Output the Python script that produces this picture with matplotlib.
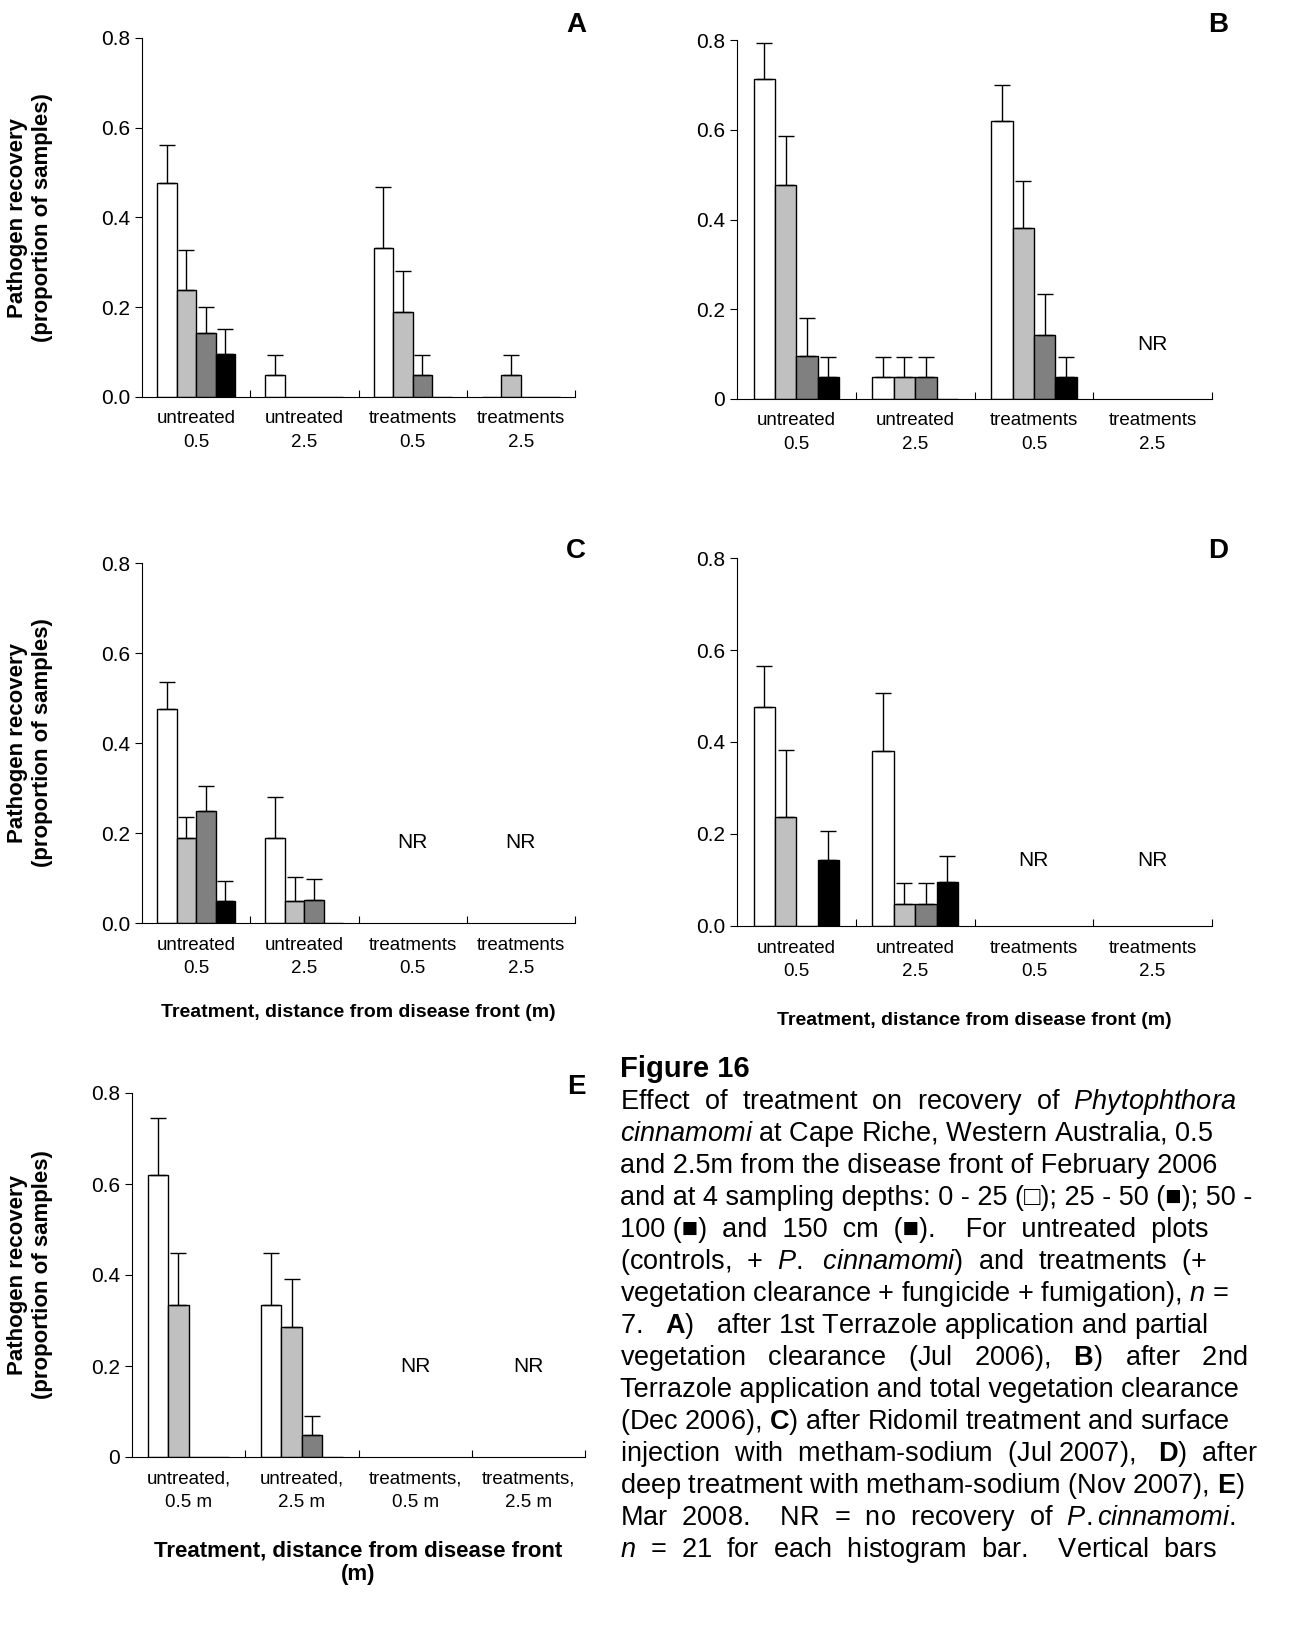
import numpy as np
import matplotlib
matplotlib.use('Agg')
import matplotlib.pyplot as plt

plt.rcParams['font.family'] = ['Liberation Sans', 'DejaVu Sans']
plt.rcParams['mathtext.fontset'] = 'custom'
plt.rcParams['mathtext.rm'] = 'Liberation Sans'
plt.rcParams['mathtext.it'] = 'Liberation Sans:italic'
plt.rcParams['mathtext.bf'] = 'Liberation Sans:bold'

W, H = 1304, 1650
colors = ['white', '#c0c0c0', '#808080', 'black']

cats = ['untreated\n0.5', 'untreated\n2.5', 'treatments\n0.5', 'treatments\n2.5']
cats_e = ['untreated,\n0.5 m', 'untreated,\n2.5 m', 'treatments,\n0.5 m', 'treatments,\n2.5 m']

# values per group (4 depths), None = no recovery
a_vals = [[0.476, 0.238, 0.143, 0.095], [0.048, 0, 0, 0], [0.333, 0.190, 0.048, 0], [0, 0.048, 0, 0]]
a_err = [[0.085, 0.09, 0.057, 0.057], [0.045, 0, 0, 0], [0.135, 0.09, 0.045, 0], [0, 0.045, 0, 0]]
b_vals = [[0.714, 0.476, 0.095, 0.048], [0.048, 0.048, 0.048, 0], [0.619, 0.381, 0.143, 0.048], None]
b_err = [[0.08, 0.11, 0.085, 0.045], [0.045, 0.045, 0.045, 0], [0.08, 0.105, 0.09, 0.045], None]
c_vals = [[0.476, 0.190, 0.250, 0.048], [0.190, 0.048, 0.052, 0], None, None]
c_err = [[0.06, 0.045, 0.055, 0.045], [0.09, 0.055, 0.045, 0], None, None]
d_vals = [[0.476, 0.238, 0, 0.143], [0.381, 0.048, 0.048, 0.095], None, None]
d_err = [[0.09, 0.145, 0, 0.063], [0.125, 0.045, 0.045, 0.057], None, None]
e_vals = [[0.619, 0.333, 0, 0], [0.333, 0.286, 0.048, 0], None, None]
e_err = [[0.125, 0.115, 0, 0], [0.115, 0.105, 0.043, 0], None, None]

fig = plt.figure(figsize=(W / 100, H / 100), dpi=100)


def panel(x0, x1, ytop, ybot, vals, errs, labels, letter, lpos, nr_y,
          ticklabels, ylabel=True, xlabel=None, xlab_y=None, xlab_size=13):
    ax = fig.add_axes([x0 / W, 1 - ybot / H, (x1 - x0) / W, (ybot - ytop) / H])
    w = 0.18
    for g in range(4):
        if vals[g] is None:
            ax.text(g, nr_y, 'NR', ha='center', va='center', fontsize=15)
            continue
        for d in range(4):
            xp = g + (d - 1.5) * w
            ax.bar(xp, vals[g][d], w, color=colors[d], edgecolor='black', lw=1)
            if errs[g][d] > 0:
                ax.errorbar(xp, vals[g][d], yerr=[[0], [errs[g][d]]], fmt='none',
                            ecolor='black', elinewidth=1, capsize=6, capthick=1)
    ax.set_xlim(-0.5, 3.5)
    ax.set_ylim(0, 0.8)
    ax.set_yticks([0, 0.2, 0.4, 0.6, 0.8])
    ax.set_yticklabels(ticklabels, fontsize=15)
    ax.set_xticks([0.5, 1.5, 2.5, 3.5], minor=False)
    ax.set_xticklabels([])
    ax.tick_params(axis='x', direction='in', length=5)
    ax.tick_params(axis='y', direction='out', length=5)
    for g in range(4):
        ax.text(g, -0.03, labels[g], ha='center', va='top', fontsize=13.5,
                transform=ax.transData, linespacing=1.5)
    for s in ['top', 'right']:
        ax.spines[s].set_visible(False)
    if ylabel:
        fig.text(30 / W, 1 - ((ytop + ybot) / 2) / H, 'Pathogen recovery\n(proportion of samples)',
                 rotation=90, ha='center', va='center', fontsize=16, fontweight='bold')
    fig.text(lpos[0] / W, 1 - lpos[1] / H, letter, fontsize=20, fontweight='bold', ha='center', va='center')
    if xlabel:
        fig.text(((x0 + x1) / 2) / W, 1 - xlab_y / H, xlabel, ha='center', va='top',
                 fontsize=xlab_size, fontweight='bold')
    return ax


t0 = ['0.0', '0.2', '0.4', '0.6', '0.8']
t1 = ['0', '0.2', '0.4', '0.6', '0.8']
panel(142, 575, 38, 397, a_vals, a_err, cats, 'A', (576, 25), 0, t0)
panel(737, 1212, 40, 399, b_vals, b_err, cats, 'B', (1218, 25), 0.122, t1, ylabel=False)
panel(142, 575, 563, 923, c_vals, c_err, cats, 'C', (576, 551), 0.178, t0,
      xlabel='Treatment, distance from disease front (m)', xlab_y=1004, xlab_size=14)
panel(737, 1212, 558, 926, d_vals, d_err, cats, 'D', (1218, 551), 0.143, t0, ylabel=False,
      xlabel='Treatment, distance from disease front (m)', xlab_y=1012, xlab_size=14)
panel(132, 585, 1093, 1457, e_vals, e_err, cats_e, 'E', (576, 1087), 0.2, t1,
      xlabel='Treatment, distance from disease front\n(m)', xlab_y=1540, xlab_size=16)

caption = [
    r'Effect  of  treatment  on  recovery  of  $\mathit{Phytophthora}$',
    r'$\mathit{cinnamomi}$ at Cape Riche, Western Australia, 0.5',
    'and 2.5m from the disease front of February 2006',
    'and at 4 sampling depths: 0 - 25 (\u25a1); 25 - 50 (\u25a0); 50 -',
    '100 (\u25a0)  and  150  cm  (\u25a0).    For  untreated  plots',
    r'(controls,  +  $\mathit{P.}$  $\mathit{cinnamomi}$)  and  treatments  (+',
    r'vegetation clearance + fungicide + fumigation), $\mathit{n}$ =',
    r'7.   $\mathbf{A}$)   after 1st Terrazole application and partial',
    r'vegetation   clearance   (Jul   2006),   $\mathbf{B}$)   after   2nd',
    'Terrazole application and total vegetation clearance',
    r'(Dec 2006), $\mathbf{C}$) after Ridomil treatment and surface',
    r'injection  with  metham-sodium  (Jul 2007),   $\mathbf{D}$)  after',
    r'deep treatment with metham-sodium (Nov 2007), $\mathbf{E}$)',
    r'Mar  2008.    NR  =  no  recovery  of  $\mathit{P. cinnamomi}$.',
    r'$\mathit{n}$  =  21  for  each  histogram  bar.    Vertical  bars',
]
fig.text(620 / W, 1 - 1069 / H, 'Figure 16', fontsize=21, fontweight='bold', va='center')
for i, line in enumerate(caption):
    fig.text(620 / W, 1 - (1102 + i * 32.0) / H, line, fontsize=19.5, va='center')

fig.savefig('out.png', dpi=100)
